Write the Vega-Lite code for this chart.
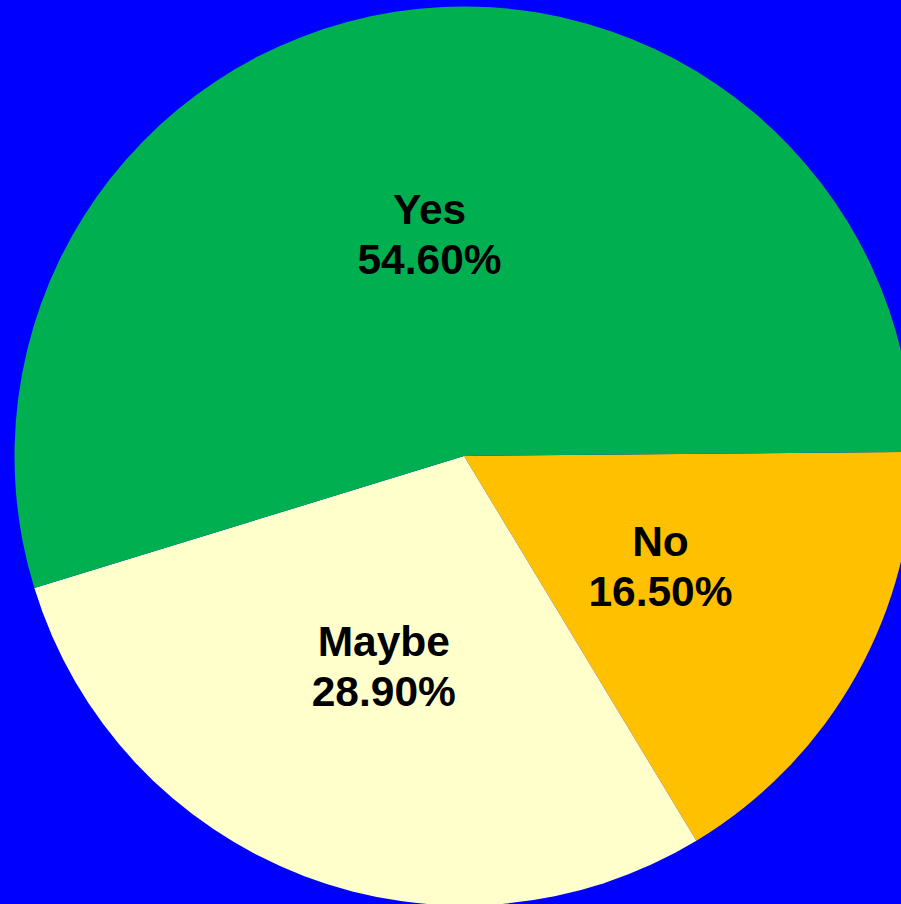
{
  "$schema": "https://vega.github.io/schema/vega-lite/v6.json",
  "width": 874,
  "height": 896,
  "autosize": {"type": "none"},
  "padding": {"left": 27, "top": 8, "right": 0, "bottom": 0},
  "background": "#0000FF",
  "config": {"view": {"stroke": null}},
  "data": {
    "values": [
      {"answer": "No", "pct": 16.5, "ord": 1, "label": "No\n16.50%"},
      {"answer": "Maybe", "pct": 28.9, "ord": 2, "label": "Maybe\n28.90%"},
      {"answer": "Yes", "pct": 54.6, "ord": 3, "label": "Yes\n54.60%"}
    ]
  },
  "encoding": {
    "theta": {"field": "pct", "type": "quantitative", "stack": true, "scale": {"range": [1.5615, 7.8447]}},
    "order": {"field": "ord", "type": "quantitative"}
  },
  "layer": [
    {
      "mark": {"type": "arc", "outerRadius": 449.5, "stroke": null},
      "encoding": {
        "color": {
          "field": "answer",
          "type": "nominal",
          "scale": {"domain": ["Yes", "No", "Maybe"], "range": ["#00B050", "#FFC000", "#FFFFCC"]},
          "legend": null
        }
      }
    },
    {
      "mark": {
        "type": "text",
        "radius": 225,
        "dy": -23,
        "font": "Liberation Sans",
        "fontWeight": "bold",
        "fontSize": 42.5,
        "lineHeight": 50,
        "lineBreak": "\n",
        "align": "center",
        "baseline": "middle",
        "color": "#000000"
      },
      "encoding": {
        "text": {"field": "label", "type": "nominal"}
      }
    }
  ]
}
